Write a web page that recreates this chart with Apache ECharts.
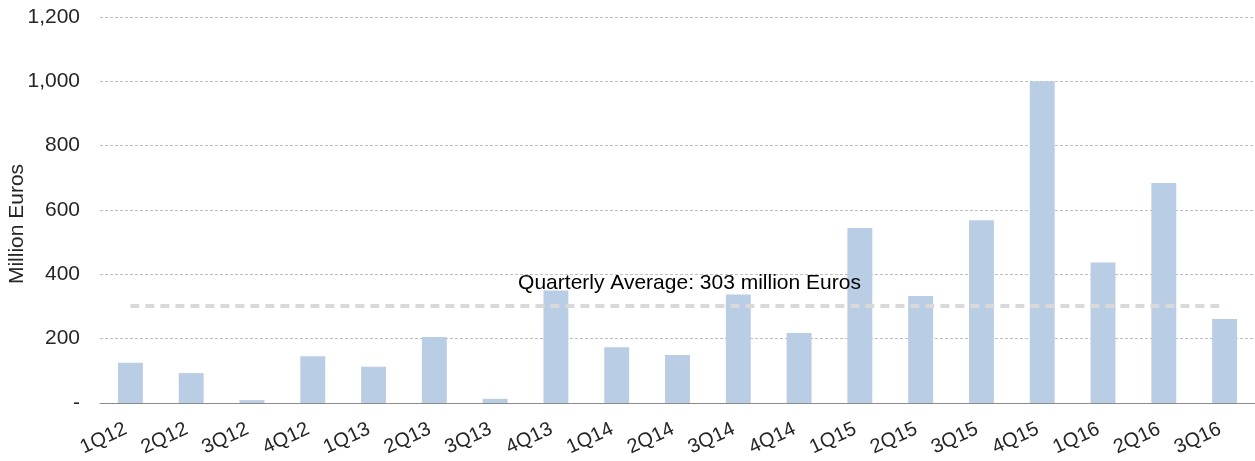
<!DOCTYPE html>
<html>
<head>
<meta charset="utf-8">
<script src="https://cdn.jsdelivr.net/npm/echarts@6/dist/echarts.min.js"></script>
<style>
  html, body { margin: 0; padding: 0; background: #fff; }
  #chart { width: 1255px; height: 461px; }
</style>
</head>
<body>
<div id="chart"></div>
<script>
// quarters on the x axis
const quarters = ['1Q12', '2Q12', '3Q12', '4Q12', '1Q13', '2Q13', '3Q13', '4Q13', '1Q14', '2Q14',
  '3Q14', '4Q14', '1Q15', '2Q15', '3Q15', '4Q15', '1Q16', '2Q16', '3Q16']
// million euros per quarter
const values = [125, 93, 9, 145, 113, 205, 13, 350, 173, 149, 337, 218, 544, 333, 568, 1000, 437, 684, 261]
const average = 303
const averageLabel = 'Quarterly Average: 303 million Euros'

const textColor = '#262626'
const font = 'Liberation Sans, Arial'
const chart = echarts.init(document.getElementById('chart'))

chart.setOption({
  animation: false,
  grid: { left: 100, right: 0, top: 17, bottom: 58, outerBoundsMode: 'none' },
  xAxis: {
    type: 'category',
    data: quarters,
    axisTick: { show: false },
    axisLine: { lineStyle: { color: '#8c8c8c', width: 1 } },
    axisLabel: {
      rotate: 25, interval: 0, margin: 23,
      padding: [0, 5, 0, 0],
      color: textColor, fontSize: 20, fontFamily: font
    }
  },
  yAxis: {
    type: 'value',
    min: 0, max: 1200, interval: 200,
    name: 'Million Euros',
    nameLocation: 'middle',
    nameGap: 72,
    nameMoveOverlap: false,
    nameTextStyle: { color: textColor, fontSize: 21, fontFamily: font, padding: [0, 28, 0, 0] },
    axisLine: { show: false },
    axisTick: { show: false },
    axisLabel: {
      margin: 20,
      color: textColor, fontSize: 21, fontFamily: font,
      formatter: v => v === 0 ? '-' : v.toLocaleString('en-US')
    },
    splitLine: { lineStyle: { color: '#c0c0c0', type: [3, 2], width: 1 } }
  },
  series: [{
    type: 'bar',
    data: values,
    barWidth: '41%',
    itemStyle: { color: '#b9cde5' },
    markLine: {
      symbol: 'none',
      silent: true,
      lineStyle: { color: '#d9d9d9', type: [9, 6], width: 4 },
      label: {
        show: true,
        position: 'middle',
        distance: 12,
        offset: [12, 0],
        formatter: averageLabel,
        color: '#000', fontSize: 21, fontFamily: font
      },
      data: [[
        { coord: [quarters[0], average] },
        { coord: [quarters[quarters.length - 1], average] }
      ]]
    }
  }]
})
</script>
</body>
</html>
